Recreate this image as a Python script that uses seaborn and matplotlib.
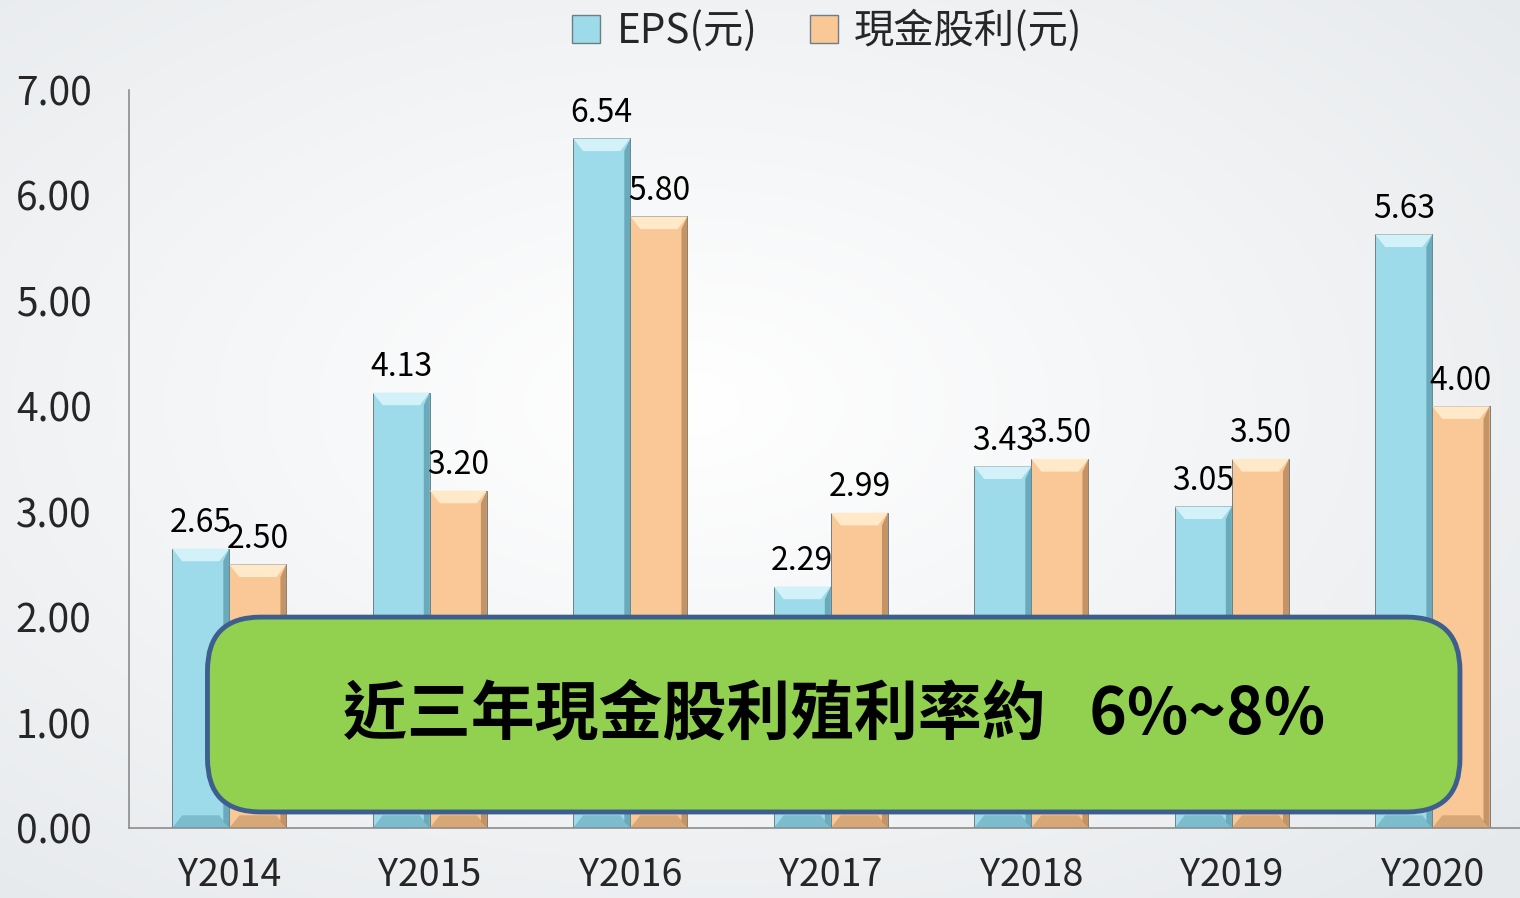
import numpy as np
import pandas as pd
import matplotlib.pyplot as plt
import seaborn as sns
from matplotlib.patches import FancyBboxPatch, Polygon
from matplotlib.lines import Line2D

# data
years = ['Y2014', 'Y2015', 'Y2016', 'Y2017', 'Y2018', 'Y2019', 'Y2020']
eps = [2.65, 4.13, 6.54, 2.29, 3.43, 3.05, 5.63]
cash_div = [2.50, 3.20, 5.80, 2.99, 3.50, 3.50, 4.00]
series_names = ['EPS(元)', '現金股利(元)']
y_ticks = [0, 1, 2, 3, 4, 5, 6, 7]
note = '近三年現金股利殖利率約   6%~8%'

df = pd.DataFrame({
    'year': years * 2,
    'value': eps + cash_div,
    'series': [series_names[0]] * len(years) + [series_names[1]] * len(years),
})

sns.set_style('white')
plt.rcParams['font.family'] = ['Noto Sans CJK TC', 'DejaVu Sans']

blue = '#9DDAEA'
peach = '#FAC896'

fig = plt.figure(figsize=(15.2, 8.98), dpi=100)

# soft radial background
bg = fig.add_axes([0, 0, 1, 1], zorder=-5)
yy, xx = np.mgrid[0:1:300j, 0:1:500j]
r = np.sqrt(((xx - 0.45) / 0.75) ** 2 + ((yy - 0.45) / 0.75) ** 2)
bg.imshow(np.clip(r, 0, 1), cmap=sns.blend_palette(['#FFFFFF', '#E6E9EC'], as_cmap=True),
          extent=[0, 1, 0, 1], aspect='auto', origin='upper')
bg.axis('off')

ax = fig.add_axes([0.0849, 0.078, 0.9234, 0.8218])
ax.set_facecolor('none')
sns.barplot(data=df, x='year', y='value', hue='series', palette=[blue, peach],
            width=0.57, saturation=1, edgecolor='#6F7F86', linewidth=0.7, ax=ax,
            legend=False)

ax.set_ylim(0, 7)
ax.set_xlim(-0.5, 6.5)

# bevel shading on each bar
dx = 0.05
dy = 0.12
shade = {blue: ('#D2F1F8', '#5E9FB0'), peach: ('#FFE9C8', '#B8875A')}
for cont, col in zip(ax.containers, [blue, peach]):
    light, dark = shade[col]
    for p in cont.patches:
        x0, w, h = p.get_x(), p.get_width(), p.get_height()
        x1 = x0 + w
        ax.add_patch(Polygon([(x0, h), (x1, h), (x1 - dx, h - dy), (x0 + dx, h - dy)],
                             closed=True, facecolor=light, edgecolor='none', zorder=3))
        ax.add_patch(Polygon([(x1, h), (x1, 0), (x1 - dx * 0.6, dy * 0.5), (x1 - dx * 0.6, h - dy)],
                             closed=True, facecolor=dark, edgecolor='none', alpha=0.8, zorder=3))
        ax.add_patch(Polygon([(x0, 0), (x1, 0), (x1 - dx, dy), (x0 + dx, dy)],
                             closed=True, facecolor=dark, edgecolor='none', alpha=0.5, zorder=3))
    ax.bar_label(cont, fmt='%.2f', padding=7, fontsize=23, color='black', zorder=4)

ax.set_yticks(y_ticks)
ax.set_yticklabels([f'{v:.2f}' for v in y_ticks])
ax.tick_params(axis='y', length=10, width=1, color='#8C8C8C', labelsize=28, pad=17)
ax.set_xticks(range(len(years)))
ax.set_xticklabels(years)
ax.tick_params(axis='x', which='major', length=0, labelsize=27, pad=20)
ax.set_xticks(np.arange(-0.5, 7, 1), minor=True)
ax.tick_params(axis='x', which='minor', length=9, width=1, color='#8C8C8C')
ax.set_xlabel('')
ax.set_ylabel('')
for s in ['top', 'right']:
    ax.spines[s].set_visible(False)
for s in ['left', 'bottom']:
    ax.spines[s].set_color('#8C8C8C')
    ax.spines[s].set_linewidth(1.2)

# legend
handles = [Line2D([], [], marker='s', linestyle='none', markersize=20,
                  markerfacecolor=c, markeredgecolor='#6E7E86') for c in [blue, peach]]
fig.legend(handles, series_names, loc='upper center', bbox_to_anchor=(0.543, 1.03),
           ncol=2, frameon=False, fontsize=29, handlelength=0.9, handletextpad=0.3,
           columnspacing=1.2)

# green note box
box = FancyBboxPatch((0.1365, 0.0958), 0.824, 0.217, boxstyle='round,pad=0,rounding_size=0.035',
                     transform=fig.transFigure, facecolor='#92D050', edgecolor='#3E5F8E',
                     linewidth=3.5, zorder=10, mutation_aspect=1.7)
fig.patches.append(box)
fig.text(0.549, 0.204, note, ha='center', va='center', fontsize=46, fontweight='bold',
         color='black', zorder=11)

fig.savefig('out.png', dpi=100)
